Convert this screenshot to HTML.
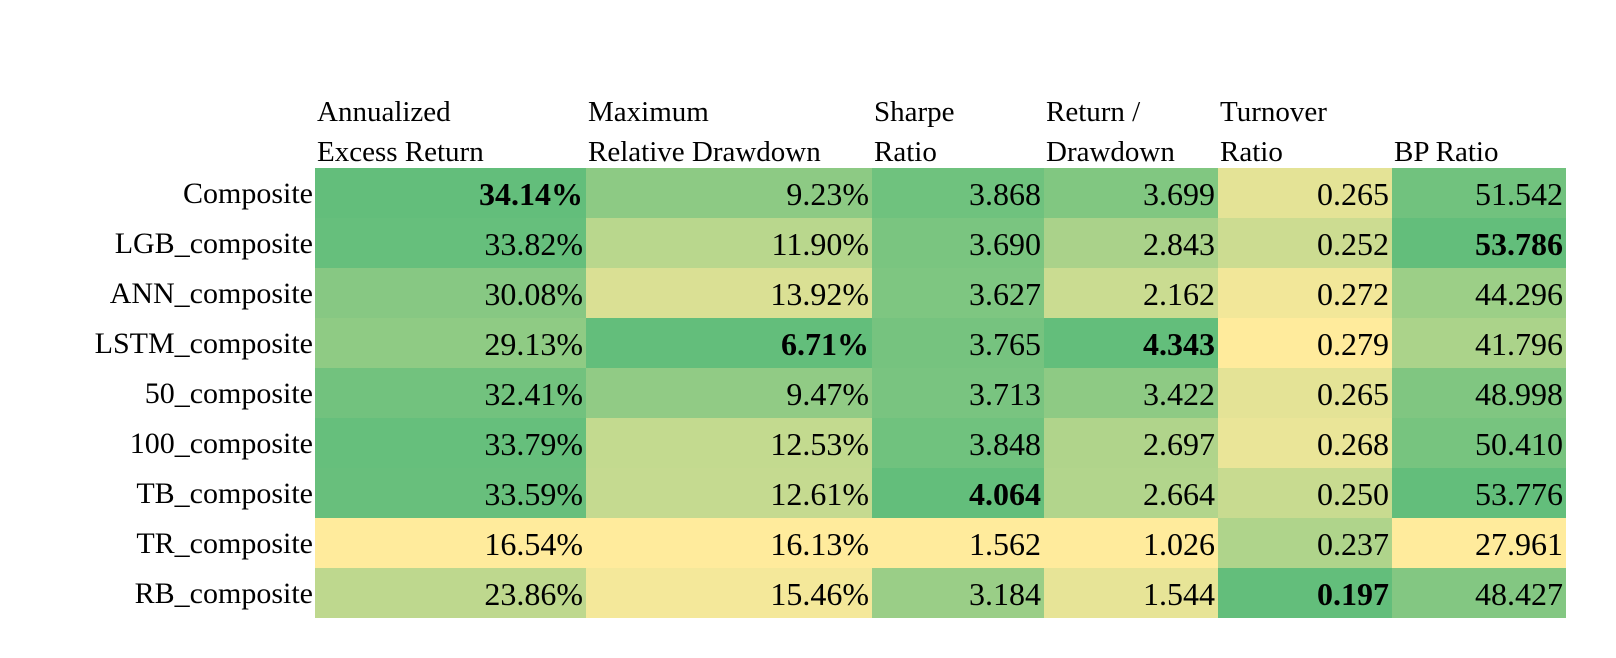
<!DOCTYPE html>
<html><head><meta charset="utf-8">
<style>
body{margin:0;width:1616px;height:658px;background:#fff;position:relative;overflow:hidden;font-family:"Liberation Serif",serif;color:#000}
.c{position:absolute;box-sizing:border-box;font-size:32px;line-height:52px;white-space:nowrap}
.l{font-size:30px}
.h{position:absolute;font-size:29px;line-height:40px;white-space:nowrap}
</style></head><body>
<div id="t"></div>
<script>
const rowsLabels=["Composite","LGB_composite","ANN_composite","LSTM_composite","50_composite","100_composite","TB_composite","TR_composite","RB_composite"];
const headers=[["Annualized","Excess Return"],["Maximum","Relative Drawdown"],["Sharpe","Ratio"],["Return /","Drawdown"],["Turnover","Ratio"],["","BP Ratio"]];
const annRet=[34.14,33.82,30.08,29.13,32.41,33.79,33.59,16.54,23.86];
const maxDD=[9.23,11.90,13.92,6.71,9.47,12.53,12.61,16.13,15.46];
const sharpe=[3.868,3.690,3.627,3.765,3.713,3.848,4.064,1.562,3.184];
const retDD=[3.699,2.843,2.162,4.343,3.422,2.697,2.664,1.026,1.544];
const turnover=[0.265,0.252,0.272,0.279,0.265,0.268,0.250,0.237,0.197];
const bp=[51.542,53.786,44.296,41.796,48.998,50.410,53.776,27.961,48.427];
const cols=[annRet,maxDD,sharpe,retDD,turnover,bp];
const higherBetter=[true,false,true,true,false,true];
const fmt=[v=>v.toFixed(2)+"%",v=>v.toFixed(2)+"%",v=>v.toFixed(3),v=>v.toFixed(3),v=>v.toFixed(3),v=>v.toFixed(3)];
const colX=[315,586,872,1044,1218,1392,1566];
const top0=168,rh=50;
const Y=[255,235,156],G=[99,190,123];
const t=document.getElementById('t');
function mk(cls,x,y,w,txt){const d=document.createElement('div');d.className=cls;d.style.left=x+'px';d.style.top=y+'px';if(w)d.style.width=w+'px';d.textContent=txt;t.appendChild(d);return d;}
headers.forEach((h,j)=>{
  const a=mk('h',colX[j]+2,92,0,h[0]);
  
  
  const b=mk('h',colX[j]+2,132,0,h[1]);
  
  
});
rowsLabels.forEach((r,i)=>{
  const d=mk('c l',0,top0+i*rh,313,r);d.style.textAlign='right';
  
  
});
cols.forEach((arr,j)=>{
  const mn=Math.min(...arr),mx=Math.max(...arr);
  arr.forEach((v,i)=>{
    let f=(v-mn)/(mx-mn||1);if(!higherBetter[j])f=1-f;
    const c=Y.map((y,k)=>Math.round(y+(G[k]-y)*f));
    const d=mk('c',colX[j],top0+i*rh,colX[j+1]-colX[j],fmt[j](v));
    d.style.height=rh+'px';d.style.background=`rgb(${c})`;d.style.textAlign='right';d.style.paddingRight='3px';
    if(f===1)d.style.fontWeight='bold';
    
    
  });
});
</script>
</body></html>
